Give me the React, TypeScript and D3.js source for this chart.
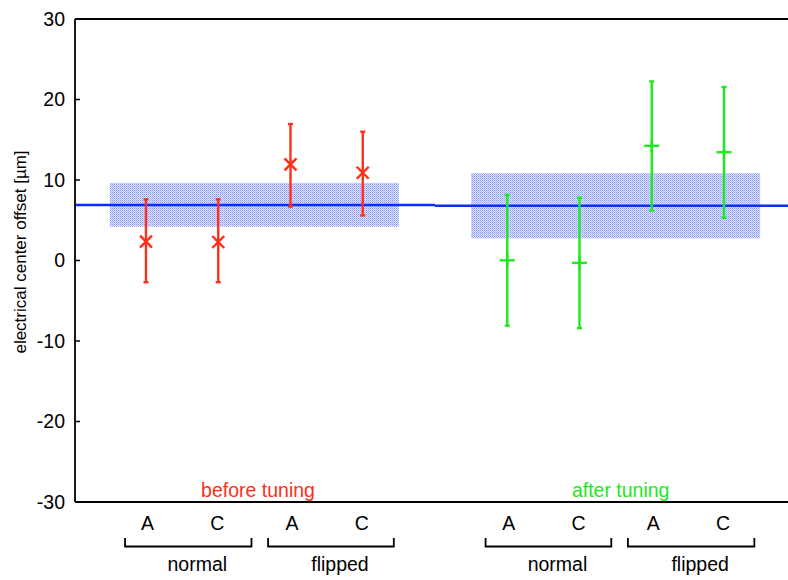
import React from "react";
import * as d3 from "d3";

const positions = [1, 2, 3, 4, 6, 7, 8, 9];
const catLabels = ["A", "C", "A", "C", "A", "C", "A", "C"];
const groupLabels = ["before tuning", "after tuning"];
const bracketLabels = ["normal", "flipped", "normal", "flipped"];
const bracketRanges = [[0.71, 2.46], [2.69, 4.43], [5.70, 7.44], [7.67, 9.42]];

const centers = [2.35, 2.3, 11.95, 10.9, 0.02, -0.3, 14.25, 13.45];
const errTop = [7.6, 7.6, 16.95, 16.0, 8.15, 7.8, 22.25, 21.55];
const errBottom = [-2.7, -2.7, 6.7, 5.6, -8.1, -8.4, 6.2, 5.3];

const meanValues = [6.9, 6.8];
const bandLow = [4.2, 2.75];
const bandHigh = [9.65, 10.85];
const bandX = [[0.5, 4.5], [5.5, 9.5]];
const meanX = [[0.0, 5.0], [5.0, 10.0]];

const yTicks = [-30, -20, -10, 0, 10, 20, 30];

const RED = "#ff3019";
const GREEN = "#1ee81e";
const BLUE = "#0a2eff";

export default function App() {
  const W = 788, H = 580;
  const left = 75, top = 19, bottom = 502;
  const x = d3.scaleLinear().domain([1, 9]).range([146, 724]);
  const y = d3.scaleLinear().domain([-30, 30]).range([bottom, top]);
  const font = "'Liberation Sans', Arial, Helvetica, sans-serif";

  return (
    <svg width={W} height={H} style={{ position: "absolute", left: 0, top: 0 }} fontFamily={font}>
      <defs>
        <pattern id="dots" width="2" height="2" patternUnits="userSpaceOnUse">
          <rect width="2" height="2" fill="#e2e5fe" />
          <rect width="1" height="1" fill="#8697f7" />
          <rect x="1" y="1" width="1" height="1" fill="#aab5fa" />
        </pattern>
      </defs>
      <rect width={W} height={H} fill="#fff" />
      {/* bands */}
      {bandLow.map((lo, i) => (
        <rect key={"b" + i} x={x(bandX[i][0])} width={x(bandX[i][1]) - x(bandX[i][0])}
          y={y(bandHigh[i])} height={y(lo) - y(bandHigh[i])} fill="url(#dots)" />
      ))}
      {/* mean lines */}
      {meanValues.map((m, i) => (
        <line key={"m" + i} x1={Math.max(left, x(meanX[i][0]))} x2={Math.min(W, x(meanX[i][1]))}
          y1={y(m)} y2={y(m)} stroke={BLUE} strokeWidth={2.6} />
      ))}
      {/* axes */}
      <line x1={left} x2={W} y1={top} y2={top} stroke="#000" strokeWidth={1.8} />
      <line x1={left} x2={W} y1={bottom} y2={bottom} stroke="#000" strokeWidth={1.8} />
      <line x1={left} x2={left} y1={top} y2={bottom} stroke="#000" strokeWidth={1.8} />
      {yTicks.map((t) => (
        <g key={"t" + t}>
          <line x1={left} x2={left + 5} y1={y(t)} y2={y(t)} stroke="#000" strokeWidth={1.5} />
          <text x={left - 10} y={y(t)} dy="0.35em" textAnchor="end" fontSize={19.5}>{t}</text>
        </g>
      ))}
      <text transform={`translate(26,${252}) rotate(-90)`} textAnchor="middle" fontSize={17}>
        electrical center offset [µm]
      </text>
      {/* error bars and markers */}
      {positions.map((p, i) => {
        const cx = x(p);
        const col = i < 4 ? RED : GREEN;
        const cy = y(centers[i]);
        return (
          <g key={"e" + i} stroke={col} strokeWidth={2.4}>
            <line x1={cx} x2={cx} y1={y(errTop[i])} y2={y(errBottom[i])} />
            <line x1={cx - 2.5} x2={cx + 2.5} y1={y(errTop[i])} y2={y(errTop[i])} />
            <line x1={cx - 2.5} x2={cx + 2.5} y1={y(errBottom[i])} y2={y(errBottom[i])} />
            {i < 4 ? (
              <>
                <line x1={cx - 6} x2={cx + 6} y1={cy - 6} y2={cy + 6} strokeWidth={2.4} />
                <line x1={cx - 6} x2={cx + 6} y1={cy + 6} y2={cy - 6} strokeWidth={2.4} />
              </>
            ) : (
              <>
                <line x1={cx - 7.5} x2={cx + 7.5} y1={cy} y2={cy} />
                <line x1={cx} x2={cx} y1={cy - 7} y2={cy + 7} />
              </>
            )}
          </g>
        );
      })}
      {/* group labels */}
      <text x={x(2.55)} y={490} dy="0.35em" textAnchor="middle" fontSize={19.5} fill={RED}>{groupLabels[0]}</text>
      <text x={x(7.57)} y={490} dy="0.35em" textAnchor="middle" fontSize={19.5} fill={GREEN}>{groupLabels[1]}</text>
      {/* category labels */}
      {positions.map((p, i) => (
        <text key={"c" + i} x={x(p) + (catLabels[i] === "A" ? 1.5 : -1)} y={523} dy="0.35em" textAnchor="middle" fontSize={19.5}>{catLabels[i]}</text>
      ))}
      {/* brackets */}
      {bracketRanges.map((r, i) => {
        const x1 = x(r[0]), x2 = x(r[1]);
        return (
          <g key={"br" + i}>
            <path d={`M${x1},538 V546.5 H${x2} V538`} fill="none" stroke="#000" strokeWidth={1.8} />
            <text x={(x1 + x2) / 2 + 9} y={564} dy="0.35em" textAnchor="middle" fontSize={19.5}>{bracketLabels[i]}</text>
          </g>
        );
      })}
    </svg>
  );
}
